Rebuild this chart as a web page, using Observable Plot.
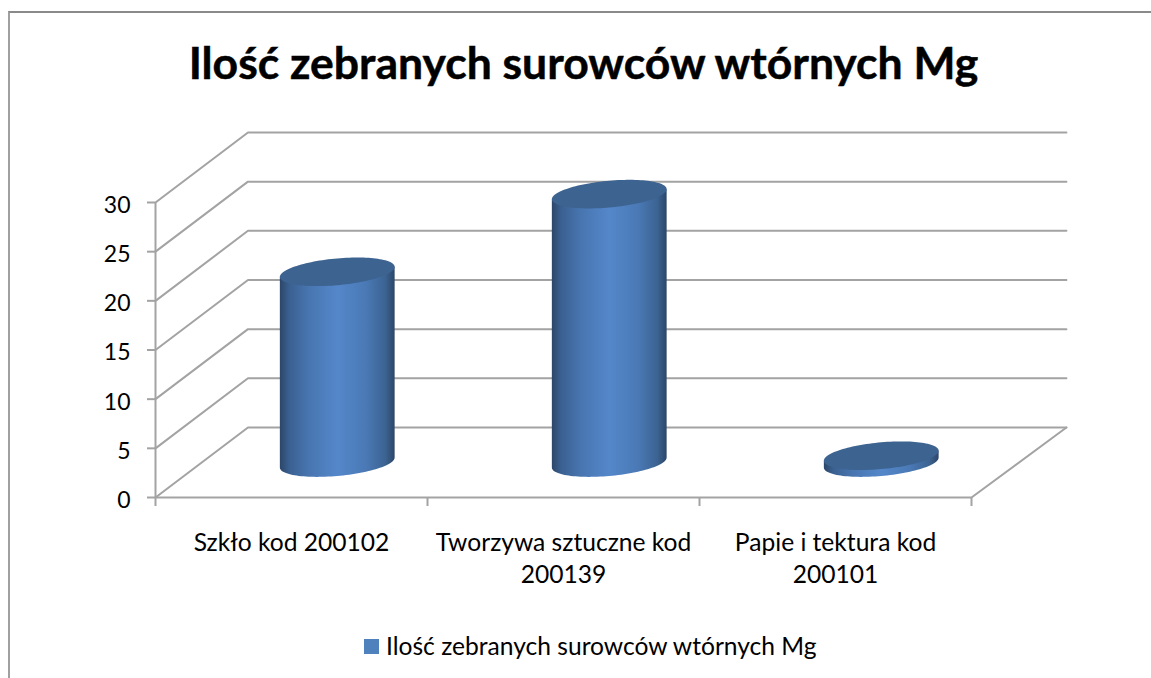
<!DOCTYPE html>
<html lang="pl">
<head>
<meta charset="utf-8">
<script src="https://cdn.jsdelivr.net/npm/d3@7"></script>
<script src="https://cdn.jsdelivr.net/npm/@observablehq/plot@0.6"></script>
<style>
html,body{margin:0;padding:0;background:#fff;overflow:hidden}
#wrap{position:relative;width:1151px;height:678px;font-family:Lato,sans-serif;color:#000;overflow:hidden}
#frame{position:absolute;left:8px;top:11px;width:1200px;height:800px;border:2px solid #a0a0a0;border-top-color:#8a8a8a;box-sizing:border-box}
#title{position:absolute;left:0;top:30px;width:1167px;text-align:center;font-size:44.5px;font-weight:700;line-height:64px;white-space:nowrap;-webkit-text-stroke:0.5px #000}
#legend{position:absolute;left:364px;top:632px;display:flex;align-items:center;font-size:24.6px;line-height:28px;white-space:nowrap}
#legend i{display:block;width:15px;height:15px;background:#4f81bd;margin-right:7px}
svg{position:absolute;left:0;top:0}
</style>
</head>
<body>
<div id="wrap">
  <div id="frame"></div>
  <div id="title">Ilość zebranych surowców wtórnych Mg</div>
  <div id="legend"><i></i><span>Ilość zebranych surowców wtórnych Mg</span></div>
</div>
<script>
const categories = ["Szkło kod 200102", "Tworzywa sztuczne kod\n200139", "Papie i tektura kod\n200101"];
const values = [19.4, 27.3, 0.7];
const yTicks = [0, 5, 10, 15, 20, 25, 30];

// chart geometry in data units
const pxPerUnit = 295 / 30;
const depthX = 0.34, depthXRight = 0.349, depthY = 7.12;
const midX = 0.17, midY = 3.5;
const halfW = 0.211;
const tilt = 5 / pxPerUnit, cap = 13.4 / pxPerUnit;
const gridColor = "#a3a3a3";

const us = d3.range(0, 61).map(i => -Math.cos(Math.PI * i / 60));
const cyl = values.flatMap((v, i) => us.map(u => {
  const s = Math.sqrt(Math.max(0, 1 - u * u));
  return {
    c: categories[i],
    x: i + 0.5 + midX + u * halfW,
    bodyLow: midY + tilt * u - cap * s,
    bodyHigh: midY + v + tilt * u,
    capLow: midY + v + tilt * u - cap * s,
    capHigh: midY + v + tilt * u + cap * s
  };
}));

const sideLines = yTicks.map(v => ({v, pts: [[0, v], [depthX, v + depthY], [3 + depthXRight, v + depthY]]}));
const lineData = sideLines.flatMap(d => d.pts.map(p => ({v: d.v, x: p[0], y: p[1]})));

const defs = () => d3.create("svg:defs").html(`
  <linearGradient id="cyl" x1="0" x2="1" y1="0" y2="0">
    <stop offset="0" stop-color="#2c4669"/>
    <stop offset="0.08" stop-color="#3a6090"/>
    <stop offset="0.25" stop-color="#4875b0"/>
    <stop offset="0.5" stop-color="#5487ca"/>
    <stop offset="0.75" stop-color="#4a79b5"/>
    <stop offset="0.92" stop-color="#3c6392"/>
    <stop offset="1" stop-color="#2c4669"/>
  </linearGradient>`).node();

const chart = Plot.plot({
  width: 1151, height: 678,
  marginLeft: 155, marginRight: 180, marginTop: 202, marginBottom: 181,
  style: {background: "transparent", fontFamily: "Lato, sans-serif", overflow: "visible"},
  x: {domain: [0, 3]},
  y: {domain: [0, 30]},
  marks: [
    defs,
    Plot.line(lineData, {x: "x", y: "y", z: "v", stroke: gridColor, strokeWidth: 2, curve: "linear"}),
    Plot.line([{x: 3, y: 0}, {x: 3 + depthXRight, y: depthY}], {x: "x", y: "y", stroke: gridColor, strokeWidth: 2}),
    Plot.ruleX([0], {y1: 0, y2: 30, stroke: gridColor, strokeWidth: 2}),
    Plot.ruleY([0], {x1: 0, x2: 3, stroke: gridColor, strokeWidth: 2}),
    Plot.axisY({ticks: yTicks, tickSize: 8, stroke: gridColor, strokeWidth: 2, strokeOpacity: 1, label: null, tickFormat: () => ""}),
    Plot.axisY({ticks: yTicks, tickSize: 0, tickPadding: 25, dy: 3, label: null, fontSize: 23, fill: "#000", tickFormat: d => String(d)}),
    Plot.axisX({ticks: [0, 1, 2, 3], tickSize: 9, stroke: gridColor, strokeWidth: 2, strokeOpacity: 1,
      label: null, tickFormat: () => ""}),
    Plot.axisX({ticks: [0.5, 1.5, 2.5], tickSize: 0, tickPadding: 31, label: null, fontSize: 24.6, fill: "#000",
      lineHeight: 1.3, tickFormat: d => categories[d - 0.5]}),
    Plot.areaY(cyl, {x: "x", y1: "bodyLow", y2: "bodyHigh", z: "c", fill: "url(#cyl)"}),
    Plot.areaY(cyl, {x: "x", y1: "capLow", y2: "capHigh", z: "c", fill: "#3d6390"})
  ]
});
document.getElementById("wrap").appendChild(chart);
</script>
</body>
</html>
